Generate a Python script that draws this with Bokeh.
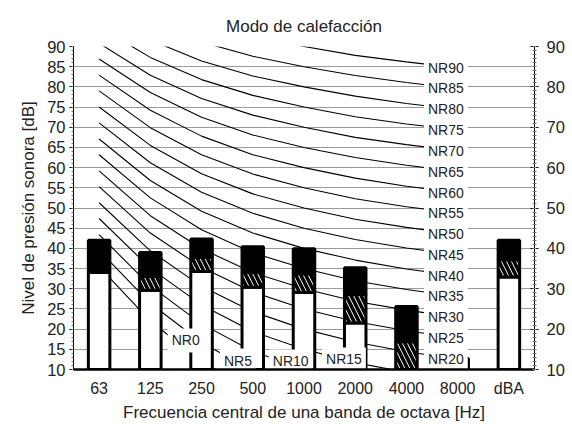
from bokeh.plotting import figure
from bokeh.models import (FactorRange, Range1d, LinearAxis, SingleIntervalTicker,
                          ColumnDataSource)
from bokeh.core.properties import value
from bokeh.embed import file_html
from bokeh.resources import INLINE

# ---------------- data ----------------
cats = ["63", "125", "250", "500", "1000", "2000", "4000", "8000", "dBA"]
nr_cats = ["63", "125", "250", "500", "1000", "2000", "4000", "8000"]

# stacked bar levels (dB): white part top, hatched part top, total (black top)
white_top = [34.1, 29.6, 34.3, 30.4, 29.1, 21.5, 10.0, 10.0, 32.9]
hatch_top = [34.1, 33.1, 37.8, 34.1, 33.7, 28.6, 16.9, 10.0, 37.2]
total = [42.0, 39.0, 42.3, 40.4, 39.9, 35.2, 25.6, 12.7, 42.0]

# NR curves, values at 63 .. 8000 Hz
nr0 = [35.5, 22.0, 12.0, 4.8, 0.0, -3.5, -6.1, -8.0]
nr5 = [39.5, 26.4, 16.7, 9.7, 5.0, 1.6, -1.0, -2.9]
nr10 = [43.4, 30.7, 21.3, 14.5, 10.0, 6.6, 4.2, 2.3]
nr15 = [47.4, 35.1, 26.0, 19.4, 15.0, 11.7, 9.3, 7.5]
nr20 = [51.3, 39.4, 30.6, 24.3, 20.0, 16.8, 14.4, 12.6]
nr25 = [55.3, 43.8, 35.3, 29.2, 25.0, 21.9, 19.6, 17.8]
nr30 = [59.2, 48.1, 39.9, 34.0, 30.0, 26.9, 24.7, 22.9]
nr35 = [63.2, 52.5, 44.6, 38.9, 35.0, 32.0, 29.8, 28.1]
nr40 = [67.1, 56.8, 49.2, 43.8, 40.0, 37.1, 34.9, 33.2]
nr45 = [71.1, 61.2, 53.9, 48.7, 45.0, 42.2, 40.1, 38.4]
nr50 = [75.0, 65.5, 58.5, 53.5, 50.0, 47.2, 45.2, 43.5]
nr55 = [79.0, 69.9, 63.2, 58.4, 55.0, 52.3, 50.3, 48.7]
nr60 = [82.9, 74.2, 67.8, 63.2, 60.0, 57.4, 55.4, 53.8]
nr65 = [86.9, 78.6, 72.5, 68.1, 65.0, 62.5, 60.6, 59.0]
nr70 = [90.8, 82.9, 77.1, 73.0, 70.0, 67.5, 65.7, 64.1]
nr75 = [94.8, 87.3, 81.8, 77.9, 75.0, 72.6, 70.8, 69.3]
nr80 = [98.7, 91.6, 86.4, 82.7, 80.0, 77.7, 75.9, 74.4]
nr85 = [102.7, 96.0, 91.1, 87.6, 85.0, 82.8, 81.1, 79.6]
nr90 = [106.6, 100.3, 95.7, 92.5, 90.0, 87.8, 86.2, 84.7]
nr_curves = [nr0, nr5, nr10, nr15, nr20, nr25, nr30, nr35, nr40, nr45,
             nr50, nr55, nr60, nr65, nr70, nr75, nr80, nr85, nr90]
nr_names = ["NR0", "NR5", "NR10", "NR15", "NR20", "NR25", "NR30", "NR35", "NR40",
            "NR45", "NR50", "NR55", "NR60", "NR65", "NR70", "NR75", "NR80",
            "NR85", "NR90"]

# label anchor (category, offset) and level for the NR labels
label_cat = ["125", "250", "500", "1000"] + ["8000"] * 15
label_off = [0.69, 0.71, 0.74, 0.78] + [-0.23] * 15
label_y = [17.2, 12.2, 12.0, 12.5] + [c[-1] for c in nr_curves[4:]]

title = "Modo de calefacción"
xlabel = "Frecuencia central de una banda de octava [Hz]"
ylabel = "Nivel de presión sonora [dB]"

FONT = "Liberation Sans"
TXT = "#222222"

# ---------------- figure ----------------
p = figure(width=572, height=424, x_range=FactorRange(*cats, range_padding=0),
           y_range=Range1d(10, 90), output_backend="svg", toolbar_location=None,
           min_border_left=73, min_border_right=38, min_border_top=46,
           min_border_bottom=55, background_fill_color="white",
           border_fill_color="white")
p.outline_line_color = None

p.title.text = title
p.title.align = "center"
p.title.text_font = FONT
p.title.text_font_size = "17px"
p.title.text_font_style = "normal"
p.title.text_color = TXT
p.title.standoff = 22

# grid
p.xgrid.grid_line_color = None
p.ygrid.ticker = SingleIntervalTicker(interval=5)
p.ygrid.grid_line_color = "#9a9a9a"
p.ygrid.grid_line_width = 1

# x axis
xa = p.xaxis[0]
xa.axis_line_width = 2.5
xa.axis_line_color = "black"
xa.major_tick_line_color = None
xa.minor_tick_line_color = None
xa.major_tick_out = 0
xa.major_tick_in = 0
xa.major_label_text_font = FONT
xa.major_label_text_font_size = "16px"
xa.major_label_text_color = TXT
xa.major_label_standoff = 10
xa.axis_label = xlabel
xa.axis_label_text_font = FONT
xa.axis_label_text_font_size = "17px"
xa.axis_label_text_font_style = "normal"
xa.axis_label_text_color = TXT
xa.axis_label_standoff = 3

# left y axis
ya = p.yaxis[0]
ya.ticker = SingleIntervalTicker(interval=5, num_minor_ticks=5)
ya.axis_line_color = "black"
ya.major_tick_in = 0
ya.major_tick_out = 4
ya.minor_tick_in = 0
ya.minor_tick_out = 2
ya.minor_tick_line_color = "#777777"
ya.major_label_text_font = FONT
ya.major_label_text_font_size = "16.5px"
ya.major_label_text_color = TXT
ya.major_label_standoff = 4
ya.axis_label = ylabel
ya.axis_label_text_font = FONT
ya.axis_label_text_font_size = "17px"
ya.axis_label_text_font_style = "normal"
ya.axis_label_text_color = TXT
ya.axis_label_standoff = 6

# right y axis
ra = LinearAxis(ticker=SingleIntervalTicker(interval=10, num_minor_ticks=10))
ra.axis_line_color = "black"
ra.major_tick_in = 4
ra.major_tick_out = 4
ra.minor_tick_in = 2
ra.minor_tick_out = 2
ra.minor_tick_line_color = "#777777"
ra.major_label_text_font = FONT
ra.major_label_text_font_size = "16.5px"
ra.major_label_text_color = TXT
ra.major_label_standoff = 8
p.add_layout(ra, "right")

# NR curves
p.multi_line(xs=[nr_cats] * len(nr_curves), ys=nr_curves,
             line_color="black", line_width=1.1)

# stacked bars
bw = 0.42
bottoms = [10] * len(cats)
p.vbar(x=cats, bottom=bottoms, top=white_top, width=bw, fill_color="white",
       line_color="black", line_width=3)
p.vbar(x=cats, bottom=white_top, top=hatch_top, width=bw, fill_color="white",
       hatch_pattern="\\", hatch_color="black", hatch_scale=10, hatch_weight=3.6,
       line_color="black", line_width=3)
p.vbar(x=cats, bottom=hatch_top, top=total, width=bw, fill_color="black",
       line_color="black", line_width=3)

# NR labels
lsrc = ColumnDataSource(dict(
    x=[(c, o) for c, o in zip(label_cat, label_off)],
    y=label_y, text=nr_names))
p.text(x="x", y="y", text="text", source=lsrc,
       text_align="center", text_baseline="middle",
       text_font=value(FONT), text_font_size="14px", text_color=TXT,
       background_fill_color="white", padding=4)

open("out.html", "w").write(file_html(p, INLINE))
